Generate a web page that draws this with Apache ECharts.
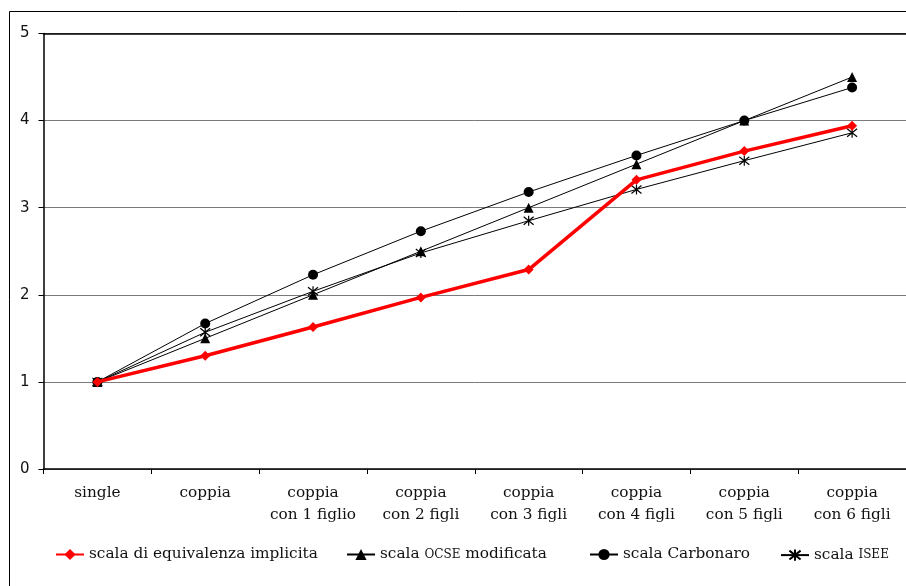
<!DOCTYPE html>
<html><head><meta charset="utf-8">
<script src="https://cdn.jsdelivr.net/npm/echarts@6/dist/echarts.min.js"></script>
<style>html,body{margin:0;padding:0;background:#fff}#c{width:906px;height:586px}</style>
</head><body><div id="c"></div>
<script>
const categories = ['single','coppia','coppia\ncon 1 figlio','coppia\ncon 2 figli','coppia\ncon 3 figli','coppia\ncon 4 figli','coppia\ncon 5 figli','coppia\ncon 6 figli'];
const implicita = [1.0, 1.30, 1.63, 1.97, 2.29, 3.32, 3.65, 3.94];
const ocse = [1.0, 1.5, 2.0, 2.5, 3.0, 3.5, 4.0, 4.5];
const carbonaro = [1.0, 1.67, 2.23, 2.73, 3.18, 3.60, 4.0, 4.38];
const isee = [1.0, 1.57, 2.04, 2.48, 2.85, 3.21, 3.54, 3.86];
const yTicks = [0, 1, 2, 3, 4, 5];

const FONT = '"DejaVu Serif", serif';
const names = ['scala di equivalenza implicita','scala OCSE modificata','scala Carbonaro','scala ISEE'];
const legendLeft = [55, 346, 589, 780];
const starPath = 'path://M1 1 L9 9 M9 1 L1 9 M5 0 L5 10';

function fmt(n){
  return n.replace('OCSE','{sc|OCSE}').replace('ISEE','{sc|ISEE}');
}
const legends = names.map((n,i)=>({
  data:[n], left: legendLeft[i], top: 547, padding: 0, itemWidth: 28, itemHeight: 14, itemGap: 5,
  formatter: fmt,
  textStyle: {fontFamily: FONT, fontSize: 15.3, color: '#111', rich: {sc: {fontFamily: FONT, fontSize: 12, color:'#111'}}}
}));

const chart = echarts.init(document.getElementById('c'), null, {renderer:'canvas'});
chart.setOption({
  animation: false,
  backgroundColor: '#fff',
  graphic: [{type:'rect', shape:{x:9.5, y:11.5, width:1000, height:1000}, style:{fill:'none', stroke:'#000', lineWidth:1}, silent:true}],
  legend: legends,
  grid: {left: 43.5, top: 33.5, right: -5.5, bottom: 117, containLabel: false},
  xAxis: [{
    type: 'category', data: categories, boundaryGap: true,
    axisLine: {lineStyle: {color: '#000', width: 1.5}},
    axisTick: {show: true, length: 5, lineStyle: {color: '#000'}},
    axisLabel: {fontFamily: FONT, fontSize: 15.3, color: '#111', margin: 13, lineHeight: 22, interval: 0}
  },{
    type: 'category', data: categories, position: 'top', boundaryGap: true,
    axisLine: {show: true, lineStyle: {color: '#000', width: 1.5}},
    axisTick: {show: false}, axisLabel: {show: false}
  }],
  yAxis: {
    type: 'value', min: yTicks[0], max: yTicks[yTicks.length-1], interval: 1,
    axisLine: {show: true, lineStyle: {color: '#000', width: 1.5}},
    axisTick: {show: true, length: 5, lineStyle: {color: '#000'}},
    axisLabel: {fontFamily: '"DejaVu Sans", sans-serif', fontSize: 15, color: '#111', margin: 14},
    splitLine: {show: true, lineStyle: {color: '#7a7a7a', width: 1}}
  },
  series: [
    {name: names[1], type: 'line', data: ocse, symbol: 'triangle', symbolSize: 10,
     itemStyle: {color: '#000'}, lineStyle: {color: '#000', width: 1}},
    {name: names[2], type: 'line', data: carbonaro, symbol: 'circle', symbolSize: 10,
     itemStyle: {color: '#000'}, lineStyle: {color: '#000', width: 1}},
    {name: names[3], type: 'line', data: isee, symbol: starPath, symbolSize: 10,
     itemStyle: {color: 'none', borderColor: '#000', borderWidth: 1.2}, lineStyle: {color: '#000', width: 1}},
    {name: names[0], type: 'line', data: implicita, symbol: 'diamond', symbolSize: 10,
     itemStyle: {color: '#ff0000'}, lineStyle: {color: '#ff0000', width: 3.5}, z: 5}
  ]
});
</script></body></html>
